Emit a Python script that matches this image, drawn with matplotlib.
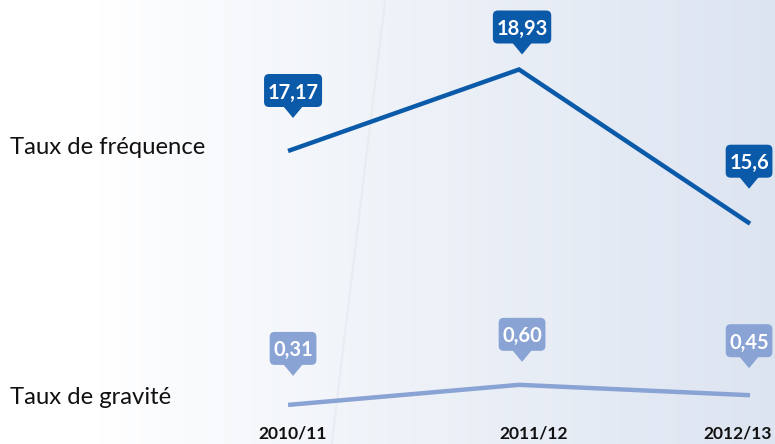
import matplotlib
matplotlib.use("Agg")
import matplotlib.pyplot as plt
import matplotlib.transforms as mtransforms
from matplotlib.patches import FancyBboxPatch, Polygon
import numpy as np

matplotlib.rcParams['font.family'] = ['Lato', 'DejaVu Sans']

# données
periodes = ['2010/11', '2011/12', '2012/13']
taux_frequence = [17.17, 18.93, 15.6]
taux_gravite = [0.31, 0.60, 0.45]
labels_frequence = ['17,17', '18,93', '15,6']
labels_gravite = ['0,31', '0,60', '0,45']

bleu_fonce = '#0b5aa9'
bleu_clair = '#8aa3d5'

fig = plt.figure(figsize=(7.75, 4.44), dpi=100)

# fond dégradé
bg = fig.add_axes([0, 0, 1, 1], zorder=0)
x = np.linspace(0, 1, 400)
t = np.clip((x - 0.13) / 0.87, 0, 1) ** 0.9
c0 = np.array([1.0, 1.0, 1.0])
c1 = np.array([0.865, 0.896, 0.945])
grad = c0[None, :] * (1 - t[:, None]) + c1[None, :] * t[:, None]
bg.imshow(grad[None, :, :], aspect='auto', extent=[0, 1, 0, 1])
bg.plot([0.497, 0.428], [1.0, 0.0], color='#d4d8de', lw=1.6, alpha=0.25)
bg.set_xlim(0, 1)
bg.set_ylim(0, 1)
bg.axis('off')

ax = fig.add_axes([0, 0, 1, 1], zorder=1)
ax.patch.set_alpha(0)
ax2 = ax.twinx()
ax2.set_zorder(2)
ax2.patch.set_alpha(0)

xs = np.arange(len(periodes))
ax.set_xlim(-1.247, 2.108)
ax.set_ylim(10.842, 20.431)
ax2.set_ylim(-0.255, 6.161)

ax.plot(xs, taux_frequence, color=bleu_fonce, lw=3.2, solid_capstyle='butt',
        solid_joinstyle='miter')
ax2.plot(xs, taux_gravite, color=bleu_clair, lw=3.2, solid_capstyle='butt',
         solid_joinstyle='miter')

renderer = fig.canvas.get_renderer()
ident = mtransforms.IdentityTransform()


def bulle(axe, xv, yv, texte, couleur, dx, dy):
    px, py = axe.transData.transform((xv, yv))
    tx, ty = px + dx, py + dy
    h, gap = 33, 11
    txt = fig.text(tx, ty + gap + h / 2, texte, transform=ident, ha='center',
                   va='center_baseline', color='white', fontsize=14.5,
                   fontweight='bold', zorder=6)
    w = txt.get_window_extent(renderer).width + 7
    boite = FancyBboxPatch((tx - w / 2, ty + gap), w, h,
                           boxstyle='round,pad=0,rounding_size=5',
                           fc=couleur, ec='none', transform=ident, zorder=5)
    fig.add_artist(boite)
    pointe = Polygon([(tx - 10, ty + gap + 1), (tx + 10, ty + gap + 1), (tx, ty)],
                     closed=True, fc=couleur, ec='none', transform=ident, zorder=5)
    fig.add_artist(pointe)


dx_f = [5, 3, -1]
dy_f = [33, 15, 35]
for i in range(len(periodes)):
    bulle(ax, xs[i], taux_frequence[i], labels_frequence[i], bleu_fonce, dx_f[i], dy_f[i])

dx_g = [5, 3, -1]
dy_g = [29, 23, 27]
for i in range(len(periodes)):
    bulle(ax2, xs[i], taux_gravite[i], labels_gravite[i], bleu_clair, dx_g[i], dy_g[i])

# étiquettes des périodes
dx_p = [5, 15, -12]
for i, p in enumerate(periodes):
    ax.annotate(p, xy=(xs[i], 0), xycoords=('data', 'figure fraction'),
                xytext=(dx_p[i], 11), textcoords='offset pixels',
                ha='center', va='center', fontsize=12.5, fontweight='bold',
                color='#111111')

fig.text(10 / 775, 1 - 147 / 444, 'Taux de fréquence', fontsize=17.2,
         va='center', ha='left', color='#111111')
fig.text(10 / 775, 1 - 398 / 444, 'Taux de gravité', fontsize=17.2,
         va='center', ha='left', color='#111111')

ax.axis('off')
ax2.axis('off')

fig.savefig('out.png', dpi=100)
